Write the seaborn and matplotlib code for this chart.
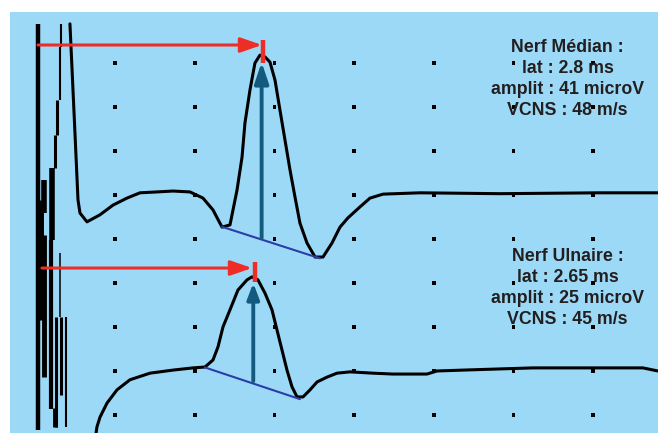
import numpy as np
import pandas as pd
import matplotlib
matplotlib.use("Agg")
import matplotlib.pyplot as plt
import seaborn as sns

# time in ms after stimulus, amplitude in microvolts (10 uV per grid row)
median_t = [0.435, 0.46, 0.498, 0.536, 0.561, 0.649, 0.812, 0.975, 1.151, 1.314,
            1.527, 1.728, 1.941, 2.104, 2.230, 2.343, 2.443, 2.531, 2.594, 2.631,
            2.694, 2.756, 2.819, 2.882, 2.945, 3.008, 3.070, 3.133, 3.196, 3.259,
            3.321, 3.409, 3.510, 3.610, 3.723, 3.823, 3.923, 4.074, 4.200, 4.363,
            4.828, 5.83, 7.08, 7.81]
median_v = [38.9, 29.1, 14.1, -1.1, -4.1, -6.1, -4.5, -2.3, -0.7, 0.5,
            0.7, 0.9, 0.7, -0.7, -3.4, -7.3, -6.8, 1.1, 8.6, 16.4,
            23.9, 30.0, 31.8, 31.4, 30.2, 26.1, 19.3, 12.5, 5.7, -0.5,
            -6.4, -10.9, -14.1, -14.1, -10.9, -7.3, -5.2, -2.7, -0.7, 0.2,
            0.5, 0.3, 0.5, 0.5]

ulnar_t = [0.75, 0.774, 0.812, 0.90, 1.025, 1.188, 1.439, 1.728, 1.979, 2.129,
           2.230, 2.293, 2.355, 2.443, 2.543, 2.656, 2.719, 2.794, 2.882, 2.970,
           3.033, 3.095, 3.158, 3.221, 3.284, 3.359, 3.447, 3.535, 3.660, 3.786,
           3.949, 4.237, 4.488, 4.915, 5.040, 5.367, 6.245, 7.625, 7.81]
ulnar_v = [-55.7, -52.7, -50.5, -47.3, -44.3, -42.0, -40.5, -39.8, -39.3, -39.1,
           -37.5, -34.5, -30.0, -26.1, -21.6, -19.3, -18.6, -19.3, -22.3, -26.1,
           -30.7, -35.2, -39.8, -43.6, -45.9, -45.9, -44.3, -42.5, -41.4, -40.5,
           -40.2, -40.5, -40.7, -40.7, -40.0, -39.8, -39.3, -39.3, -40.0]

# stimulus artifact: vertical strokes (t, top, bottom)
artifact_t = [0.034, 0.323, 0.307, 0.272, 0.247, 0.21, 0.109, 0.055, 0.115,
              0.198, 0.266, 0.31, 0.323, 0.38, 0.242]
artifact_top = [38.9, 38.9, 33.6, 21.6, 13.6, 6.1, 3.4, -1.1, -9.1,
                -10.2, -27.7, -13.2, -27.7, -27.7, -48.4]
artifact_bot = [-53.4, 33.6, 21.6, 13.6, 6.1, -10.2, -4.1, -28.4, -41.4,
                -48.6, -52.7, -27.7, -45.5, -52.7, -52.7]
artifact_w = [3.2, 1.5, 1.5, 2.2, 2.2, 4.0, 4.0, 5.0, 3.5, 3.0, 2.2, 1.1, 2.2, 1.5, 3.5]

grid_t = [1, 2, 3, 4, 5, 6, 7]
grid_v = [30, 20, 10, 0, -10, -20, -30, -40, -50]

nerves = ["Nerf Médian", "Nerf Ulnaire"]
lat_label = ["2.8", "2.65"]
amp_uv = [41, 25]
vcns = [48, 45]

red_start = [0.034, 0.084]
red_end = [2.845, 2.72]
red_level = [34.1, -16.6]
tick_t = [2.86, 2.757]
tick_top = [35.2, -15.2]
tick_bot = [30.0, -19.8]
amp_t = [2.84, 2.735]
amp_base = [-9.8, -42.3]
amp_peak = [30.2, -20.0]
base_t0 = [2.339, 2.129]
base_v0 = [-7.2, -39.2]
base_t1 = [3.572, 3.321]
base_v1 = [-14.4, -46.4]
label_t = [6.68, 6.68]
label_v = [26.3, -21.1]

sns.set_style("white")
plt.rcParams["font.family"] = ["Liberation Sans", "DejaVu Sans"]

fig = plt.figure(figsize=(6.58, 4.34), dpi=100)
ax = fig.add_axes([10 / 658, 1 / 434, 648 / 658, 421 / 434])
ax.set_facecolor("#9cd9f7")

gx, gy = np.meshgrid(grid_t, grid_v)
sns.scatterplot(x=gx.ravel(), y=gy.ravel(), marker="s", s=7, color="black",
                edgecolor="none", ax=ax, zorder=2)

ax.vlines(artifact_t, artifact_bot, artifact_top, colors="black",
          linewidths=artifact_w, zorder=3)

traces = pd.concat([
    pd.DataFrame({"t": median_t, "v": median_v, "nerf": nerves[0]}),
    pd.DataFrame({"t": ulnar_t, "v": ulnar_v, "nerf": nerves[1]}),
])
sns.lineplot(data=traces, x="t", y="v", units="nerf", estimator=None, sort=False,
             color="black", lw=2.2, ax=ax, zorder=3)

for i in range(2):
    ax.plot([base_t0[i], base_t1[i]], [base_v0[i], base_v1[i]],
            color="#2b3ea8", lw=1.5, zorder=4)
    ax.annotate("", xy=(amp_t[i], amp_peak[i]), xytext=(amp_t[i], amp_base[i]),
                arrowprops=dict(arrowstyle="-|>,head_length=%.2f,head_width=%.2f"
                                % ((1.25, 0.42) if i == 0 else (0.95, 0.36)),
                                color="#145a7e", lw=2.8, shrinkA=0, shrinkB=0),
                zorder=5)
    ax.annotate("", xy=(red_end[i], red_level[i]), xytext=(red_start[i], red_level[i]),
                arrowprops=dict(arrowstyle="-|>,head_length=1.3,head_width=0.45",
                                color="#ee2d27", lw=2.2, shrinkA=0, shrinkB=0),
                zorder=6)
    ax.plot([tick_t[i], tick_t[i]], [tick_bot[i], tick_top[i]],
            color="#ee2d27", lw=3.2, solid_capstyle="butt", zorder=6)
    txt = "%s :\nlat : %s ms\namplit : %d microV\nVCNS : %d m/s" % (
        nerves[i], lat_label[i], amp_uv[i], vcns[i])
    ax.text(label_t[i], label_v[i], txt, ha="center", va="center",
            fontsize=12.8, fontweight="bold", color="#231f20",
            linespacing=1.3, zorder=7)

ax.set_xlim(-0.317, 7.813)
ax.set_ylim(-54.1, 41.6)
ax.set_xticks([])
ax.set_yticks([])
ax.set_xlabel("")
ax.set_ylabel("")
for s in ax.spines.values():
    s.set_visible(False)

fig.savefig("out.png", dpi=100)
